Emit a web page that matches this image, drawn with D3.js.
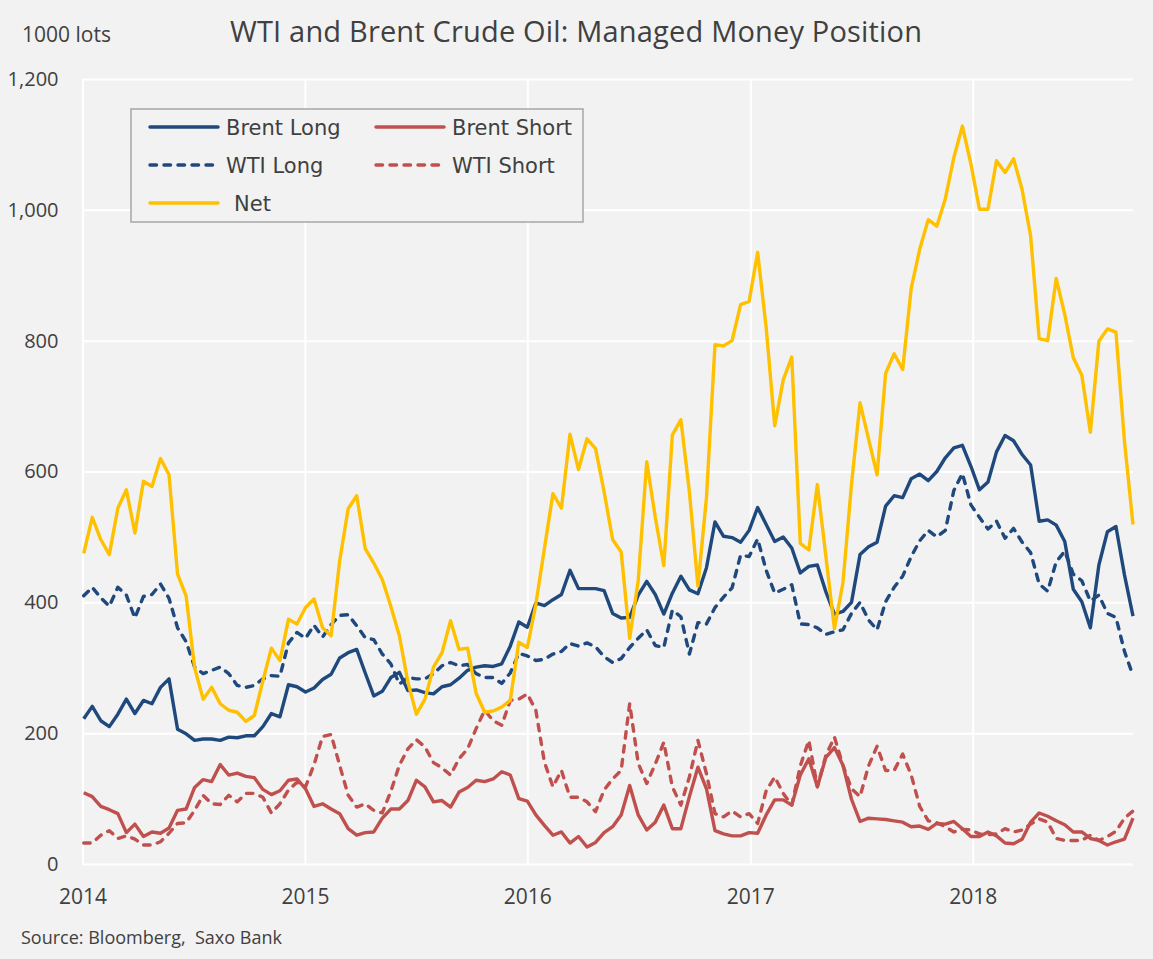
<!DOCTYPE html>
<html>
<head>
<meta charset="utf-8">
<script src="https://cdn.jsdelivr.net/npm/d3@7"></script>
<style>
  body { margin: 0; background: #f2f2f2; }
  svg { display: block; }
</style>
</head>
<body>
<script>
// fortnightly observations, Jan 2014 - Sep 2018 (1000 lots)
const startDate = new Date(2014, 0, 3);
const dates = d3.range(124).map(i => d3.timeDay.offset(startDate, 14 * i));

const brentLong = [
  222, 241, 219, 210, 229, 252, 230, 250, 245, 270, 283, 206, 199, 189, 191, 191, 189, 194, 193, 196,
  196, 210, 230, 225, 274, 271, 263, 269, 282, 290, 315, 323, 328, 292, 257, 264, 285, 293, 265, 266,
  262, 260, 271, 274, 284, 296, 301, 303, 302, 306, 333, 370, 362, 399, 395, 404, 412, 449, 421, 421,
  421, 418, 383, 376, 377, 411, 432, 412, 382, 414, 440, 419, 413, 453, 523, 501, 499, 492, 510, 545,
  519, 493, 500, 483, 445, 455, 457, 416, 382, 386, 400, 473, 485, 492, 547, 563, 560, 589, 596, 586,
  600, 621, 636, 640, 608, 572, 584, 630, 655, 647, 626, 610, 524, 526, 518, 493, 420, 401, 361, 457,
  508, 516, 442, 379
];
const brentShort = [
  109, 103, 88, 83, 77, 48, 61, 42, 49, 47, 55, 82, 84, 117, 129, 126, 152, 136, 139, 134,
  132, 114, 106, 112, 128, 130, 115, 88, 92, 84, 77, 54, 44, 48, 49, 70, 84, 84, 97, 128,
  118, 95, 97, 87, 110, 117, 128, 126, 130, 141, 136, 100, 96, 75, 59, 44, 49, 32, 42, 26,
  33, 48, 57, 75, 120, 75, 52, 64, 90, 54, 54, 103, 148, 115, 51, 46, 43, 43, 48, 47,
  75, 98, 98, 90, 136, 161, 118, 163, 178, 151, 99, 65, 70, 69, 68, 66, 64, 57, 58, 53,
  62, 61, 65, 54, 42, 42, 49, 43, 32, 31, 38, 64, 78, 73, 66, 60, 49, 49, 39, 36,
  29, 34, 38, 70
];
const wtiLong = [
  410, 423, 407, 394, 423, 411, 376, 409, 412, 428, 406, 361, 340, 301, 291, 296, 301, 291, 273, 270,
  273, 283, 288, 287, 338, 354, 345, 365, 347, 366, 380, 381, 364, 346, 343, 321, 306, 275, 285, 283,
  283, 291, 303, 308, 303, 305, 291, 285, 285, 276, 292, 322, 318, 311, 313, 321, 325, 337, 333, 338,
  332, 317, 308, 314, 331, 345, 358, 334, 331, 388, 378, 321, 369, 367, 392, 408, 422, 472, 470, 497,
  449, 414, 420, 427, 367, 366, 361, 351, 355, 358, 383, 400, 373, 358, 401, 423, 440, 470, 494, 510,
  500, 510, 571, 597, 549, 530, 512, 524, 498, 513, 492, 476, 428, 417, 462, 478, 443, 433, 402, 411,
  383, 377, 325, 288
];
const wtiShort = [
  32, 32, 44, 51, 39, 43, 38, 29, 29, 34, 47, 62, 63, 82, 105, 92, 91, 105, 95, 108,
  108, 102, 78, 92, 113, 125, 118, 152, 195, 198, 151, 105, 87, 92, 82, 78, 111, 151, 176, 190,
  179, 155, 147, 136, 161, 176, 207, 235, 219, 212, 250, 252, 260, 235, 156, 118, 143, 102, 102, 95,
  80, 113, 130, 143, 245, 154, 123, 153, 186, 118, 90, 133, 189, 138, 77, 72, 81, 72, 77, 62,
  112, 133, 108, 90, 150, 189, 118, 166, 194, 151, 115, 103, 150, 180, 143, 143, 168, 136, 88, 66,
  63, 57, 49, 53, 52, 46, 45, 46, 54, 49, 52, 61, 69, 64, 39, 36, 36, 36, 44, 36,
  42, 50, 70, 81
];
const net = [
  475, 530, 496, 473, 544, 572, 506, 585, 577, 620, 595, 443, 410, 300, 252, 270, 245, 235, 232, 218,
  227, 280, 330, 311, 374, 367, 392, 405, 361, 349, 463, 543, 563, 482, 460, 435, 394, 349, 278, 229,
  252, 301, 323, 372, 328, 330, 261, 232, 234, 240, 250, 339, 331, 397, 482, 566, 544, 657, 603, 650,
  635, 569, 496, 477, 345, 433, 615, 530, 456, 656, 679, 569, 425, 560, 794, 792, 800, 855, 860, 935,
  820, 670, 740, 775, 490, 480, 580, 470, 360, 430, 580, 705, 650, 595, 750, 780, 756, 880, 940, 985,
  975, 1017, 1080, 1128, 1070, 1001, 1001, 1075, 1057, 1078, 1031, 960, 803, 800, 895, 840, 774, 747, 660, 799,
  818, 813, 646, 519
];

const yTicks = [0, 200, 400, 600, 800, 1000, 1200];
const yearTicks = [2014, 2015, 2016, 2017, 2018];

const series = [
  { name: "Brent Long", values: brentLong, color: "#1f497d", dash: null },
  { name: "Brent Short", values: brentShort, color: "#c0504d", dash: null },
  { name: "WTI Long", values: wtiLong, color: "#1f497d", dash: "6.5,7.5" },
  { name: "WTI Short", values: wtiShort, color: "#c0504d", dash: "6.5,7.5" },
  { name: "Net", values: net, color: "#ffc000", dash: null }
];

const w = 1153;
const h = 959;
const plotLeft = 82.5, plotRight = 1133, plotTop = 79, plotBottom = 864;
const textColor = "#404040";
const font = "'Open Sans', sans-serif";

const svg = d3
  .select("body")
  .append("svg")
  .attr("width", w)
  .attr("height", h);

svg.append("rect").attr("width", w).attr("height", h).attr("fill", "#f2f2f2");

const xScale = d3
  .scaleTime()
  .domain([new Date(2014, 0, 1), new Date(2018, 8, 21)])
  .range([plotLeft, plotRight]);

const yScale = d3
  .scaleLinear()
  .domain([0, 1200])
  .range([plotBottom, plotTop]);

// grid
const yGrid = d3.axisLeft(yScale).tickValues(yTicks).tickSize(-(plotRight - plotLeft)).tickFormat("");
svg.append("g")
  .attr("transform", "translate(" + plotLeft + ",0)")
  .call(yGrid)
  .call(g => g.select(".domain").remove())
  .selectAll("line").attr("stroke", "#ffffff").attr("stroke-width", 2);

const yearDates = yearTicks.map(y => new Date(y, 0, 1));
const xGrid = d3.axisBottom(xScale).tickValues(yearDates).tickSize(-(plotBottom - plotTop)).tickFormat("");
svg.append("g")
  .attr("transform", "translate(0," + plotBottom + ")")
  .call(xGrid)
  .call(g => g.select(".domain").remove())
  .selectAll("line").attr("stroke", "#ffffff").attr("stroke-width", 2);

// axis labels
const yAxis = d3.axisLeft(yScale).tickValues(yTicks).tickSize(0).tickPadding(24).tickFormat(d3.format(","));
svg.append("g")
  .attr("transform", "translate(" + plotLeft + ",0)")
  .call(yAxis)
  .call(g => g.select(".domain").remove())
  .selectAll("text")
  .attr("font-family", font)
  .attr("font-size", 20)
  .attr("fill", textColor);

const xAxis = d3.axisBottom(xScale).tickValues(yearDates).tickSize(0).tickPadding(25).tickFormat(d3.timeFormat("%Y"));
svg.append("g")
  .attr("transform", "translate(0," + plotBottom + ")")
  .call(xAxis)
  .call(g => g.select(".domain").remove())
  .selectAll("text")
  .attr("font-family", font)
  .attr("font-size", 21)
  .attr("fill", textColor);

// lines
const line = d3
  .line()
  .x((d, i) => xScale(dates[i]))
  .y(d => yScale(d));

svg.selectAll("path.series")
  .data(series)
  .enter()
  .append("path")
  .attr("class", "series")
  .attr("d", d => line(d.values))
  .attr("fill", "none")
  .attr("stroke", d => d.color)
  .attr("stroke-width", 3.4)
  .attr("stroke-linejoin", "round")
  .attr("stroke-linecap", d => (d.dash ? "round" : "butt"))
  .attr("stroke-dasharray", d => d.dash);

// titles
svg.append("text")
  .attr("x", 230)
  .attr("y", 42)
  .attr("font-family", font)
  .attr("font-size", 29)
  .attr("fill", textColor)
  .attr("textLength", 692)
  .attr("lengthAdjust", "spacing")
  .text("WTI and Brent Crude Oil: Managed Money Position");

svg.append("text")
  .attr("x", 22)
  .attr("y", 42)
  .attr("font-family", font)
  .attr("font-size", 21)
  .attr("fill", textColor)
  .text("1000 lots");

svg.append("text")
  .attr("x", 21)
  .attr("y", 944)
  .attr("font-family", font)
  .attr("font-size", 18)
  .attr("fill", textColor)
  .style("white-space", "pre")
  .text("Source: Bloomberg,  Saxo Bank");

// legend
const legend = svg.append("g");
legend.append("rect")
  .attr("x", 131)
  .attr("y", 109)
  .attr("width", 452)
  .attr("height", 113)
  .attr("fill", "#f2f2f2")
  .attr("stroke", "#a6a6a6")
  .attr("stroke-width", 1.5);

const legendPos = [
  { x: 150, y: 127 },
  { x: 376, y: 127 },
  { x: 150, y: 165 },
  { x: 376, y: 165 },
  { x: 150, y: 203 }
];

const items = legend.selectAll("g.item")
  .data(series)
  .enter()
  .append("g")
  .attr("class", "item")
  .attr("transform", (d, i) => "translate(" + legendPos[i].x + "," + legendPos[i].y + ")");

items.append("line")
  .attr("x1", 0)
  .attr("x2", 68)
  .attr("stroke", d => d.color)
  .attr("stroke-width", 3.5)
  .attr("stroke-linecap", "round")
  .attr("stroke-dasharray", d => d.dash);

items.append("text")
  .attr("x", d => (d.name === "Net" ? 84 : 76))
  .attr("y", 8)
  .attr("font-family", "'DejaVu Sans', Verdana, sans-serif")
  .attr("font-size", 21)
  .attr("fill", textColor)
  .text(d => d.name);
</script>
</body>
</html>
